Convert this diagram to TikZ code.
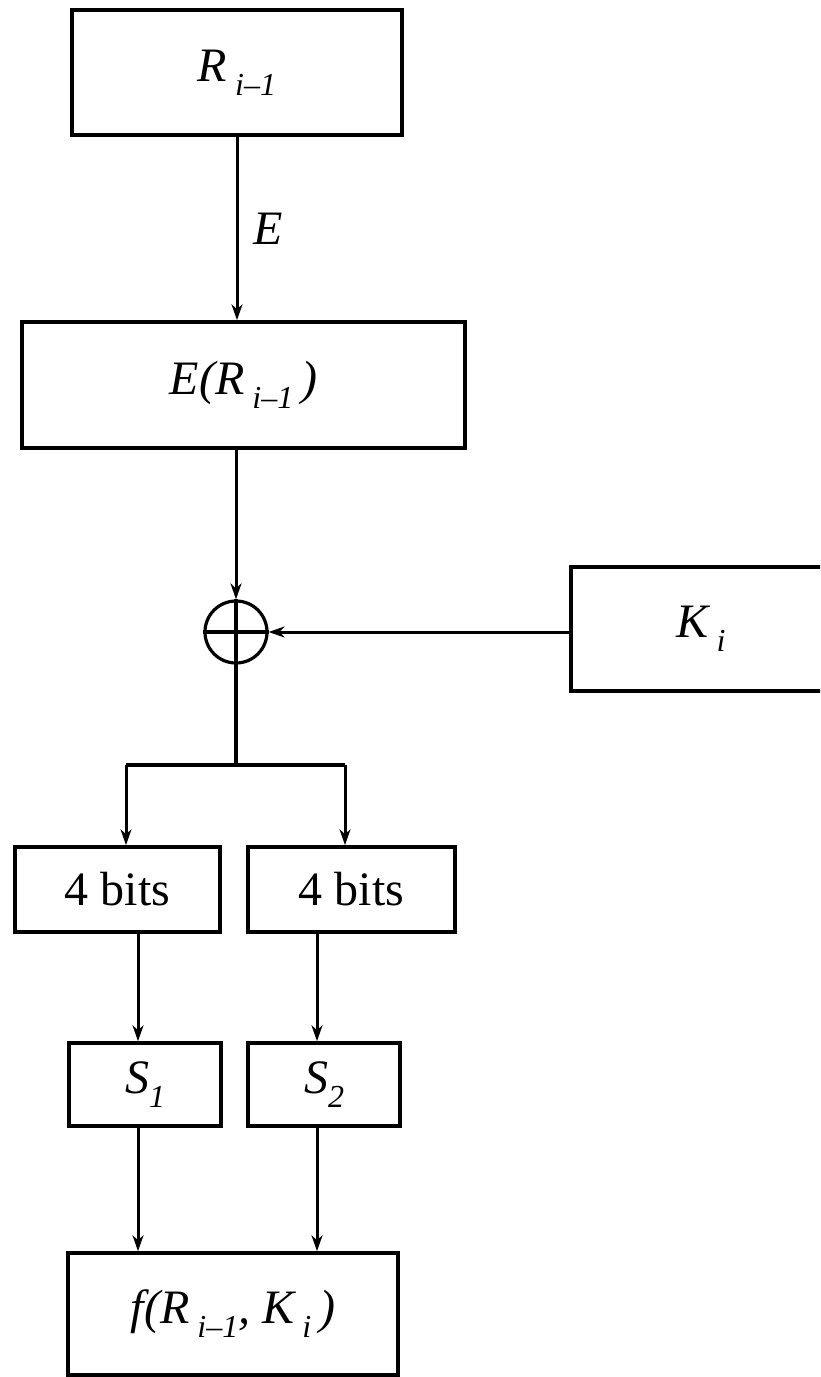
\documentclass[tikz,border=0pt]{standalone}
\usepackage{fontspec}
\setmainfont{Liberation Serif}
\usetikzlibrary{arrows.meta}
\newcommand{\lowsub}[1]{\raisebox{-7pt}{\fontsize{16}{18}\selectfont\itshape #1}}

\begin{document}
\begin{tikzpicture}[
	x=0.5pt, y=-0.5pt,
	% Box style
	block/.style={
		draw,
		line width=1.8pt,
		inner sep=0pt,
		font=\fontsize{24}{28}\selectfont
	},
	% XOR circle style
	xor/.style={
		circle,
		draw,
		line width=1.6pt,
		inner sep=0pt,
		minimum size=31pt
	},
	% Connector styles
	flow/.style={
		draw,
		line width=1.5pt,
		-{Stealth[length=8pt,width=5.5pt]}
	},
	wire/.style={
		draw,
		line width=1.6pt
	}
	]
	\useasboundingbox (0,0) rectangle (820,1377);
	\clip (0,0) rectangle (820,1377);
	
	% ================= NODES =================
	\node[block, minimum width=165pt, minimum height=62.5pt] (R) at (237,72.5) {\itshape R\,\lowsub{i–1}};
	\node[block, minimum width=221.5pt, minimum height=63pt] (ER) at (243.5,385) {\itshape E(R\,\lowsub{i–1}\,)};
	
	\node[xor] (X) at (236,632) {};
	\node[block, minimum width=130pt, minimum height=62pt] (K) at (701,629) {\itshape K\,\lowsub{i}};
	
	\coordinate (J) at (236,765);
	\coordinate (JL) at (126,765);
	\coordinate (JR) at (345,765);
	
	\node[block, minimum width=102.5pt, minimum height=42.5pt] (bitsL) at (117.5,889.5) {4 bits};
	\node[block, minimum width=103.5pt, minimum height=42.5pt] (bitsR) at (351.5,889.5) {4 bits};
	
	\coordinate (colA) at (138,0);
	\coordinate (colB) at (317,0);
	
	\node[block, minimum width=76pt, minimum height=41.5pt] (sA) at (145,1084.5) {\itshape S\lowsub{1}};
	\node[block, minimum width=76pt, minimum height=41.5pt] (sB) at (324,1084.5) {\itshape S\lowsub{2}};
	
	\node[block, minimum width=165pt, minimum height=61pt] (F) at (233,1314) {\itshape f(R\,\lowsub{i–1}, K\,\lowsub{i}\,)};
	
	% ================= EDGES =================
	\draw[flow] (R.south) -- node[right=4pt, font=\fontsize{24}{28}\selectfont\itshape] {E} (R.south |- ER.north);
	\draw[flow] (ER.south -| X) -- (X.north);
	
	\draw[wire] (X.north) -- (X.south);
	\draw[wire] (X.west) -- (X.east);
	\draw[flow] (K.west |- X) -- (X.east);
	
	\draw[wire] (X.south) -- (J);
	\draw[wire] (JL) -- (JR);
	\draw[flow] (JL) -- (bitsL.north -| JL);
	\draw[flow] (JR) -- (bitsR.north -| JR);
	
	\draw[flow] (bitsL.south -| colA) -- (sA.north -| colA);
	\draw[flow] (bitsR.south -| colB) -- (sB.north -| colB);
	
	\draw[flow] (sA.south -| colA) -- (F.north -| colA);
	\draw[flow] (sB.south -| colB) -- (F.north -| colB);
	
\end{tikzpicture}
\end{document}
